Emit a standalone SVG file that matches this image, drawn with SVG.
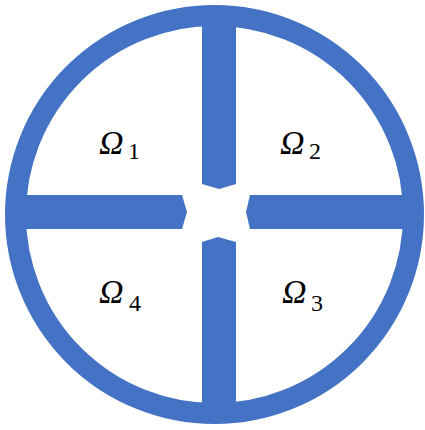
<svg xmlns="http://www.w3.org/2000/svg" width="425" height="430" viewBox="0 0 425 430">
<style>
.b{fill:#4472C4}
.r{fill:none;stroke:#4472C4;stroke-width:21}
.o{font-family:"Liberation Serif","DejaVu Serif",serif;font-style:italic;font-size:34px;fill:#000}
.s{font-family:"Liberation Serif","DejaVu Serif",serif;font-size:24px;fill:#000}
</style>
<rect width="425" height="430" fill="#fff"/>
<g id="ring"><circle class="r" cx="214.5" cy="214.5" r="199"/></g>
<g id="spokes">
<polygon id="top" class="b" points="202,10 236,10 236,184 219,189 202,184"/>
<polygon id="bottom" class="b" points="202,242 218,237 236,242 236,420 202,420"/>
<polygon id="left" class="b" points="10,195 182,195 187,212 182,229 10,229"/>
<polygon id="right" class="b" points="250,195 418,195 418,229 250,229 246,212"/>
</g>
<g id="omega1"><text class="o" x="99" y="154">Ω</text><text class="s" x="128" y="159">1</text></g>
<g id="omega2"><text class="o" x="280" y="154">Ω</text><text class="s" x="309" y="159">2</text></g>
<g id="omega4"><text class="o" x="99" y="303">Ω</text><text class="s" x="129" y="311">4</text></g>
<g id="omega3"><text class="o" x="282" y="303">Ω</text><text class="s" x="311" y="311">3</text></g>
</svg>
